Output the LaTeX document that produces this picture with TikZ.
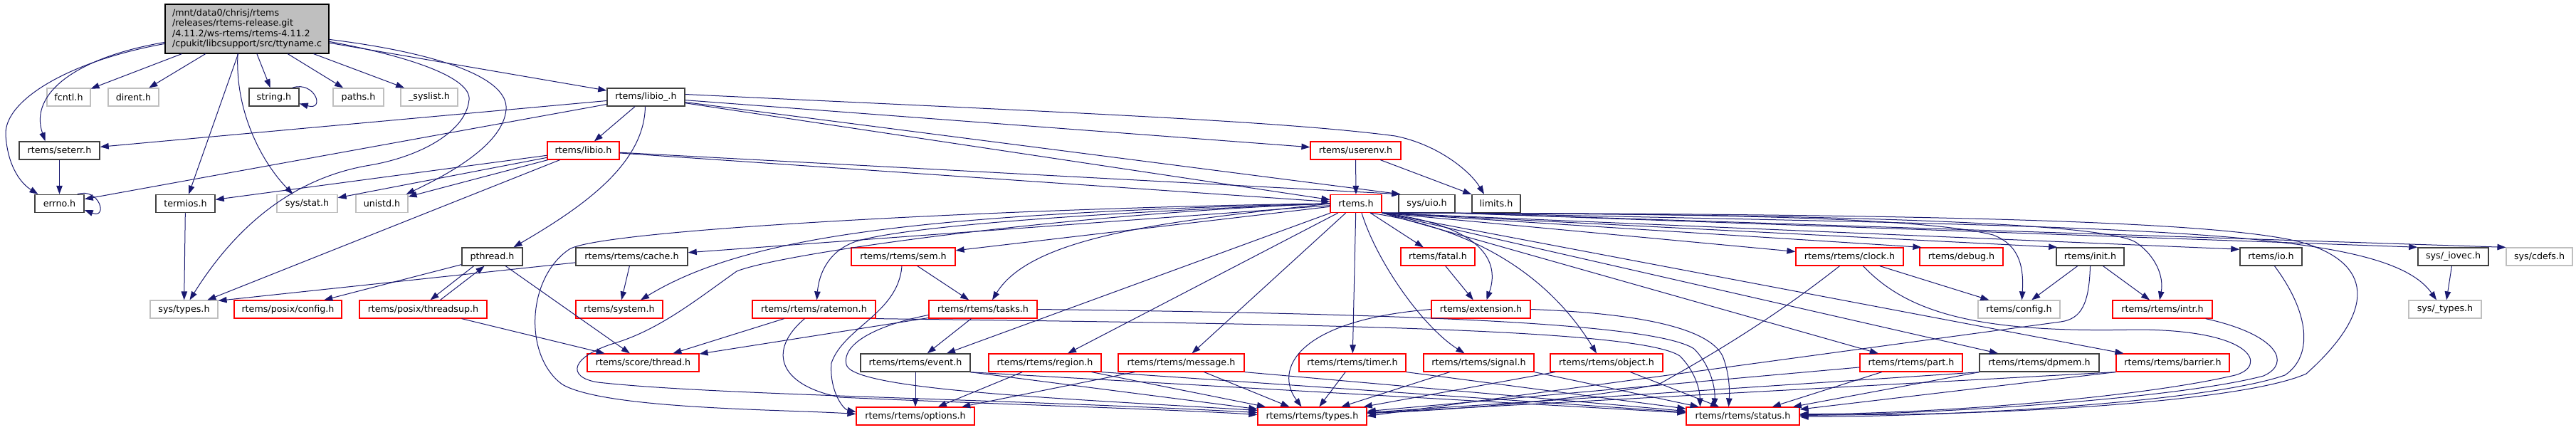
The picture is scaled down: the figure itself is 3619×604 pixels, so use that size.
\documentclass[tikz,border=0pt]{standalone}
\usepackage{fontspec}
\setmainfont{DejaVu Sans}
\usetikzlibrary{arrows.meta,calc}
\definecolor{eb}{HTML}{191970}
\definecolor{trc}{HTML}{FF0000}
\definecolor{ung}{HTML}{BFBFBF}
\definecolor{dcb}{HTML}{404040}
\definecolor{mainfill}{HTML}{BFBFBF}
\tikzset{
  box/.style={draw, line width=1.2pt, inner sep=0pt, minimum height=25pt, fill=white, text=black, font=\fontsize{12.7}{14.5}\selectfont},
  tr/.style={box, draw=trc},
  ug/.style={box, draw=ung},
  dc/.style={box, draw=dcb, line width=1.5pt},
  e/.style={draw=eb, line width=1pt, -{Triangle[length=12pt,width=8.5pt]}}
}
\begin{document}
\begin{tikzpicture}[x=1pt,y=-1pt]
\useasboundingbox (0,0) rectangle (3619,604);
% ---------- nodes ----------
\node[box, draw=black, fill=mainfill, minimum width=230pt, minimum height=69pt, text width=210pt, align=left] (main) at (347,40.5)
  {/mnt/data0/chrisj/rtems\\/releases/rtems-release.git\\/4.11.2/ws-rtems/rtems-4.11.2\\/cpukit/libcsupport/src/ttyname.c};
% row 1
\node[ug, minimum width=61pt] (fcntl) at (96.5,136.5) {fcntl.h};
\node[ug, minimum width=71pt] (dirent) at (187.5,136.5) {dirent.h};
\node[dc, minimum width=70pt] (string) at (385,136.5) {string.h};
\node[ug, minimum width=71pt] (paths) at (503.5,136.5) {paths.h};
\node[ug, minimum width=80pt] (syslist) at (603,136.5) {\_syslist.h};
\node[dc, minimum width=109pt] (libioU) at (907.5,136.5) {rtems/libio\_.h};
% row 2
\node[dc, minimum width=113pt] (seterr) at (83.5,211.5) {rtems/seterr.h};
\node[tr, minimum width=101pt] (libio) at (819.5,211.5) {rtems/libio.h};
\node[tr, minimum width=127pt] (userenv) at (1904.5,211.5) {rtems/userenv.h};
% row 3
\node[dc, minimum width=69pt] (errno) at (83.5,286) {errno.h};
\node[dc, minimum width=83pt] (termios) at (260.5,286) {termios.h};
\node[ug, minimum width=85pt] (sysstat) at (431.5,286) {sys/stat.h};
\node[ug, minimum width=73pt] (unistd) at (536.5,286) {unistd.h};
\node[tr, minimum width=72pt] (rtemsh) at (1905,286) {rtems.h};
\node[dc, minimum width=79pt] (sysuio) at (2004.5,286) {sys/uio.h};
\node[dc, minimum width=68pt] (limits) at (2102,286) {limits.h};
% row 4
\node[dc, minimum width=85pt] (pthread) at (691.5,360.5) {pthread.h};
\node[dc, minimum width=157pt] (cache) at (887.5,360.5) {rtems/rtems/cache.h};
\node[tr, minimum width=146pt] (sem) at (1269,360.5) {rtems/rtems/sem.h};
\node[tr, minimum width=104pt] (fatal) at (2020,360.5) {rtems/fatal.h};
\node[tr, minimum width=151pt] (clock) at (2598.5,360.5) {rtems/rtems/clock.h};
\node[tr, minimum width=117pt] (debug) at (2755.5,360.5) {rtems/debug.h};
\node[dc, minimum width=95pt] (init) at (2936.5,360.5) {rtems/init.h};
\node[dc, minimum width=87pt] (io) at (3190.5,360.5) {rtems/io.h};
\node[dc, minimum width=99pt] (iovec) at (3446.5,360.5) {sys/\_iovec.h};
\node[ug, minimum width=93pt] (cdefs) at (3567.5,360.5) {sys/cdefs.h};
% row 5
\node[ug, minimum width=95pt] (systypes) at (258.5,434.5) {sys/types.h};
\node[tr, minimum width=151pt] (pconfig) at (404.5,434.5) {rtems/posix/config.h};
\node[tr, minimum width=179pt] (threadsup) at (594.5,434.5) {rtems/posix/threadsup.h};
\node[tr, minimum width=122pt] (system) at (870,434.5) {rtems/system.h};
\node[tr, minimum width=173pt] (ratemon) at (1143.5,434.5) {rtems/rtems/ratemon.h};
\node[tr, minimum width=152pt] (tasks) at (1381,434.5) {rtems/rtems/tasks.h};
\node[tr, minimum width=139pt] (extension) at (2080.5,434.5) {rtems/extension.h};
\node[ug, minimum width=115pt] (config) at (2836.5,434.5) {rtems/config.h};
\node[tr, minimum width=140pt] (intr) at (3038,434.5) {rtems/rtems/intr.h};
\node[ug, minimum width=102pt] (sustypes) at (3435,434.5) {sys/\_types.h};
% row 6
\node[tr, minimum width=157pt] (thread) at (903.5,509.5) {rtems/score/thread.h};
\node[dc, minimum width=154pt] (event) at (1286,509.5) {rtems/rtems/event.h};
\node[tr, minimum width=158pt] (region) at (1468,509.5) {rtems/rtems/region.h};
\node[tr, minimum width=177pt] (message) at (1659.5,509.5) {rtems/rtems/message.h};
\node[tr, minimum width=150pt] (timer) at (1900,509.5) {rtems/rtems/timer.h};
\node[tr, minimum width=155pt] (signal) at (2077.5,509.5) {rtems/rtems/signal.h};
\node[tr, minimum width=158pt] (object) at (2257,509.5) {rtems/rtems/object.h};
\node[tr, minimum width=144pt] (part) at (2685,509.5) {rtems/rtems/part.h};
\node[dc, minimum width=168pt] (dpmem) at (2865,509.5) {rtems/rtems/dpmem.h};
\node[tr, minimum width=159pt] (barrier) at (3052.5,509.5) {rtems/rtems/barrier.h};
% row 7
\node[tr, minimum width=166pt] (options) at (1286,584.5) {rtems/rtems/options.h};
\node[tr, minimum width=153pt] (types) at (1843.5,584.5) {rtems/rtems/types.h};
\node[tr, minimum width=159pt] (status) at (2448.5,584.5) {rtems/rtems/status.h};
% ---------- edges ----------
% main
\draw[e] (main) -- (fcntl);
\draw[e] (main) -- (dirent);
\draw[e] (main) -- (string);
\draw[e] (main) -- (paths);
\draw[e] (main) -- (syslist);
\draw[e] (main) -- (libioU);
\draw[e] ([yshift=-54pt]main.north west) .. controls (110,80) and (40,130) .. ([xshift=-20pt]seterr.north);
\draw[e] ([yshift=-56pt]main.north west) .. controls (100,85) and (5,140) .. (8,190) .. controls (11,235) and (30,258) .. ([xshift=-30pt]errno.north);
\draw[e] (main) -- (termios);
\draw[e] ([xshift=-13pt]main.south) .. controls (330,160) and (370,230) .. ([xshift=-20pt]sysstat.north);
\draw[e] ([yshift=-50pt]main.north east) .. controls (620,75) and (715,110) .. (711,154) .. controls (707,200) and (640,240) .. ([xshift=-3pt]unistd.north east);
\draw[e] ([yshift=-53pt]main.north east) .. controls (580,80) and (662,110) .. (659,140) .. controls (655,185) and (590,220) .. (520,232) .. controls (410,250) and (330,320) .. ([xshift=8pt]systypes.north);
% self loops
\draw[e] ([xshift=-10pt]string.north east) .. controls (442,113) and (458,156) .. ([yshift=-9pt]string.east);
\draw[e] ([xshift=-10pt]errno.north east) .. controls (140,263) and (152,308) .. ([yshift=-9pt]errno.east);
% libio_.h
\draw[e] (libioU) -- (libio);
\draw[e] ([xshift=-1pt]libioU.south) .. controls (905,230) and (820,290) .. ([xshift=30pt]pthread.north);
\draw[e] (libioU) -- (seterr);
\draw[e] (libioU) -- (errno);
\draw[e] (libioU) -- (rtemsh);
\draw[e] (libioU) -- (userenv);
\draw[e] (libioU) -- ([xshift=3pt]sysuio.north west);
\draw[e] ([yshift=4pt]libioU.east) .. controls (1500,158) and (1800,170) .. (1960,191) .. controls (2020,203) and (2065,240) .. ([xshift=-17pt]limits.north);
% libio.h
\draw[e] (libio) -- (termios);
\draw[e] (libio) -- (sysstat);
\draw[e] (libio) -- (unistd);
\draw[e] (libio) -- (systypes);
\draw[e] (libio) -- (rtemsh);
\draw[e] (libio) -- ([xshift=3pt]sysuio.north west);
% userenv
\draw[e] (userenv) -- (rtemsh);
\draw[e] (userenv) -- (limits);
\draw[e] (seterr) -- (errno);
\draw[e] (termios) -- (systypes);
% pthread, cache
\draw[e] (pthread) -- (pconfig);
\draw[e] ([xshift=-26pt]pthread.south) -- ([xshift=10pt]threadsup.north);
\draw[e] ([xshift=24pt]threadsup.north) -- ([xshift=-11pt]pthread.south);
\draw[e] (pthread) -- (thread);
\draw[e] (threadsup) -- (thread);
\draw[e] (cache) -- (system);
\draw[e] (cache) -- ([yshift=-1pt]systypes.north east);
% rtems.h fan left
\draw[e] (rtemsh) -- (cache);
\draw[e] (rtemsh.west) .. controls (1300,300) and (1050,330) .. ([xshift=30pt]system.north);
\draw[e] (rtemsh) -- (sem);
\draw[e] (rtemsh.west) .. controls (1500,300) and (1260,320) .. (1200,340) .. controls (1160,355) and (1150,390) .. ([xshift=4pt]ratemon.north);
\draw[e] (rtemsh.west) .. controls (1650,310) and (1450,330) .. ([xshift=13pt]tasks.north);
\draw[e] (rtemsh) -- ([xshift=44pt]event.north);
\draw[e] (rtemsh) -- ([xshift=32pt]region.north);
\draw[e] (rtemsh) -- ([xshift=15pt]message.north);
\draw[e] (rtemsh.west) .. controls (1500,290) and (850,320) .. (800,350) .. controls (740,390) and (735,500) .. (790,540) .. controls (850,575) and (1100,575) .. ([yshift=3pt]options.west);
\draw[e] (rtemsh.west) .. controls (1500,300) and (1100,355) .. (1035,381) .. controls (980,420) and (930,460) .. (870,480) .. controls (800,500) and (795,530) .. (840,537) .. controls (1000,555) and (1400,560) .. ([yshift=5pt]types.west);
% rtems.h fan down
\draw[e] (rtemsh) -- (fatal);
\draw[e] (rtemsh.south east) .. controls (2070,315) and (2110,360) .. ([xshift=8pt]extension.north);
\draw[e] (rtemsh) -- (timer);
\draw[e] ([xshift=8pt]rtemsh.south) .. controls (1935,370) and (2000,460) .. ([xshift=-20pt]signal.north);
\draw[e] ([xshift=20pt]rtemsh.south) .. controls (2100,325) and (2190,410) .. ([xshift=-14pt]object.north);
% rtems.h fan right
\draw[e] (rtemsh.south east) -- (clock);
\draw[e] (rtemsh.south east) -- ([xshift=3pt]debug.north west);
\draw[e] (rtemsh.south east) -- ([xshift=2pt]init.north west);
\draw[e] (rtemsh.south east) -- ([yshift=-3pt]io.north west);
\draw[e] (rtemsh.south east) .. controls (2400,300) and (2700,305) .. (2800,330) .. controls (2840,345) and (2843,380) .. ([xshift=4pt]config.north);
\draw[e] (rtemsh.south east) .. controls (2500,300) and (2950,310) .. (3000,340) .. controls (3030,360) and (3040,390) .. ([xshift=-4pt]intr.north);
\draw[e] (rtemsh.south east) -- (part);
\draw[e] (rtemsh.south east) -- (dpmem);
\draw[e] (rtemsh.south east) -- (barrier);
\draw[e] (rtemsh.south east) .. controls (2700,300) and (3150,310) .. (3245,344) .. controls (3335,375) and (3335,440) .. (3240,525) .. controls (3150,565) and (2800,585) .. ([yshift=2pt]status.east);
% sys/uio.h
\draw[e] (sysuio.south east) -- (iovec.north west);
\draw[e] (sysuio.south east) -- (cdefs.north west);
\draw[e] (sysuio.south east) .. controls (3000,320) and (3350,318) .. ([xshift=-12pt]sustypes.north);
\draw[e] (iovec) -- (sustypes);
% sem, tasks, ratemon
\draw[e] (sem) -- (tasks);
\draw[e] ([xshift=-2pt]sem.south) .. controls (1262,440) and (1185,460) .. (1168,510) .. controls (1165,550) and (1185,575) .. ([yshift=6pt]options.west);
\draw[e] (tasks) -- (event);
\draw[e] (tasks) -- (thread);
\draw[e] ([yshift=-8pt]tasks.west) .. controls (1240,455) and (1182,480) .. (1189,512) .. controls (1196,548) and (1500,560) .. ([yshift=8pt]types.west);
\draw[e] (tasks.east) .. controls (1900,440) and (2320,450) .. (2380,490) .. controls (2400,510) and (2410,540) .. ([xshift=-40pt]status.north);
\draw[e] (ratemon) -- (thread);
\draw[e] (ratemon.south east) .. controls (1800,455) and (2300,460) .. (2360,500) .. controls (2380,520) and (2388,545) .. ([xshift=-60pt]status.north);
\draw[e] ([xshift=-13pt]ratemon.south) .. controls (1080,490) and (1090,540) .. (1180,558) .. controls (1350,566) and (1650,575) .. ([yshift=2pt]types.west);
% row 6 to row 7
\draw[e] (event) -- (options);
\draw[e] (event.south east) -- (types);
\draw[e] (event.south east) -- (status);
\draw[e] (region) -- (options);
\draw[e] (region) -- (types);
\draw[e] (region.south east) -- (status);
\draw[e] (message) -- (options);
\draw[e] (message) -- (types);
\draw[e] (message.south east) -- (status);
\draw[e] (timer) -- (types);
\draw[e] (timer.south east) -- (status);
\draw[e] (signal) -- (types);
\draw[e] (signal.south east) -- (status);
\draw[e] (object) -- (types);
\draw[e] (object) -- (status);
\draw[e] (part) -- (types);
\draw[e] (part) -- (status);
\draw[e] (dpmem.south west) -- (types);
\draw[e] (dpmem.south west) -- (status);
\draw[e] (barrier.south west) -- (types);
\draw[e] (barrier.south west) -- (status);
% fatal, extension
\draw[e] (fatal) -- (extension);
\draw[e] (extension.west) .. controls (1820,450) and (1790,520) .. ([xshift=-15pt]types.north);
\draw[e] (extension.east) .. controls (2300,440) and (2400,460) .. (2420,500) .. controls (2430,525) and (2430,550) .. ([xshift=-20pt]status.north);
% clock, init, intr, io
\draw[e] (clock) -- (config);
\draw[e] ([xshift=-14pt]clock.south) .. controls (2500,440) and (2420,490) .. (2330,540) .. controls (2200,565) and (2000,578) .. ([yshift=4pt]types.east);
\draw[e] ([xshift=19pt]clock.south) .. controls (2680,440) and (2780,468) .. (3000,463) .. controls (3170,463) and (3185,515) .. (3140,527) .. controls (3000,560) and (2700,582) .. ([yshift=3pt]status.east);
\draw[e] (init) -- (config);
\draw[e] (init) -- (intr);
\draw[e] (init.south) .. controls (2935,425) and (2925,448) .. (2895,452) -- (types.east);
\draw[e] ([xshift=-10pt]intr.south east) .. controls (3200,470) and (3220,510) .. (3180,528) .. controls (3050,562) and (2700,582) .. ([yshift=1pt]status.east);
\draw[e] ([xshift=5pt]io.south) .. controls (3245,440) and (3250,500) .. (3210,527) .. controls (3100,565) and (2750,585) .. ([yshift=-1pt]status.east);
\end{tikzpicture}
\end{document}
